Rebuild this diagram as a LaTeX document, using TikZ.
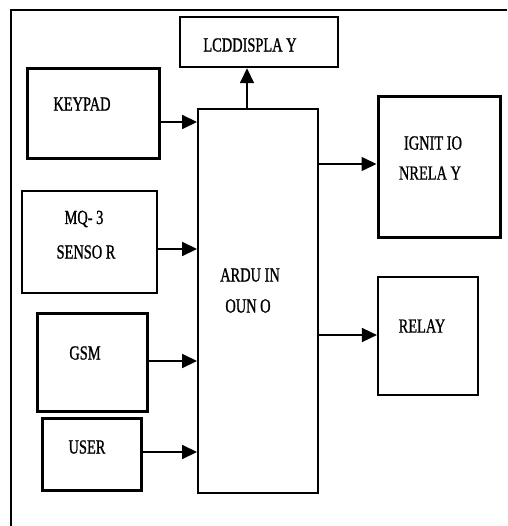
\documentclass[tikz,border=0pt]{standalone}
\usepackage{fontspec}
\setmainfont{Liberation Serif}[FakeStretch=0.72,FakeBold=1]
\usetikzlibrary{arrows.meta}
\tikzset{
  box/.style={draw, line width=#1, inner sep=0pt, fill=white},
  box/.default={1.5pt},
  lbl/.style={inner sep=0pt, font=\fontsize{20}{22}\selectfont},
  arr/.style={line width=1.6pt, -{Triangle[length=15pt,width=14pt]}},
}
\begin{document}
\begin{tikzpicture}[x=1pt,y=-1pt]
\useasboundingbox (0,0) rectangle (507,526);
% outer frame
\coordinate (fbl) at (11,526);
\coordinate (ftl) at (11,10);
\coordinate (ftr) at (507,10);
\draw[line width=2pt] (fbl) -- (ftl) -- (ftr);
% boxes
\node[box=2.4pt, minimum width=158pt, minimum height=50pt] (lcd) at (259,42) {};
\node[box=3pt, minimum width=132pt, minimum height=90pt] (key) at (93,114) {};
\node[box=1.9pt, minimum width=120pt, minimum height=384pt] (ard) at (258,301) {};
\node[box=3pt, minimum width=122pt, minimum height=140pt] (ign) at (439,167) {};
\node[box=1.5pt, minimum width=135pt, minimum height=102pt] (mq) at (89.5,242) {};
\node[box=3pt, minimum width=110pt, minimum height=98pt] (gsm) at (92,362) {};
\node[box=3pt, minimum width=99pt, minimum height=72pt] (user) at (91.5,454) {};
\node[box=2.2pt, minimum width=100pt, minimum height=118pt] (relay) at (428,336) {};
% labels
\node[lbl] (tlcd) at (250,45) {LCDDISPLA Y};
\node[lbl] (tkey) at (82,104) {KEYPAD};
\node[lbl] (tign1) at (433,143) {IGNIT IO};
\node[lbl] (tign2) at (430,173) {NRELA Y};
\node[lbl] (tmq1) at (84,219) {MQ- 3};
\node[lbl] (tmq2) at (86,252) {SENSO R};
\node[lbl] (tard1) at (250,275) {ARDU IN};
\node[lbl] (tard2) at (248,306) {OUN O};
\node[lbl] (tgsm) at (85,353) {GSM};
\node[lbl] (tuser) at (87,447) {USER};
\node[lbl] (trel) at (422,326) {RELAY};
% connectors
\draw[arr] (ard.north -| 247,0) -- (lcd.south -| 247,0);
\draw[arr] (key.east |- 0,122) -- (ard.west |- 0,122);
\draw[arr] (mq.east |- 0,249) -- (ard.west |- 0,249);
\draw[arr] (gsm.east |- 0,361) -- (ard.west |- 0,361);
\draw[arr] (user.east |- 0,452) -- (ard.west |- 0,452);
\draw[arr] (ard.east |- 0,164) -- (ign.west |- 0,164);
\draw[arr] (ard.east |- 0,335) -- (relay.west |- 0,335);
\end{tikzpicture}
\end{document}
